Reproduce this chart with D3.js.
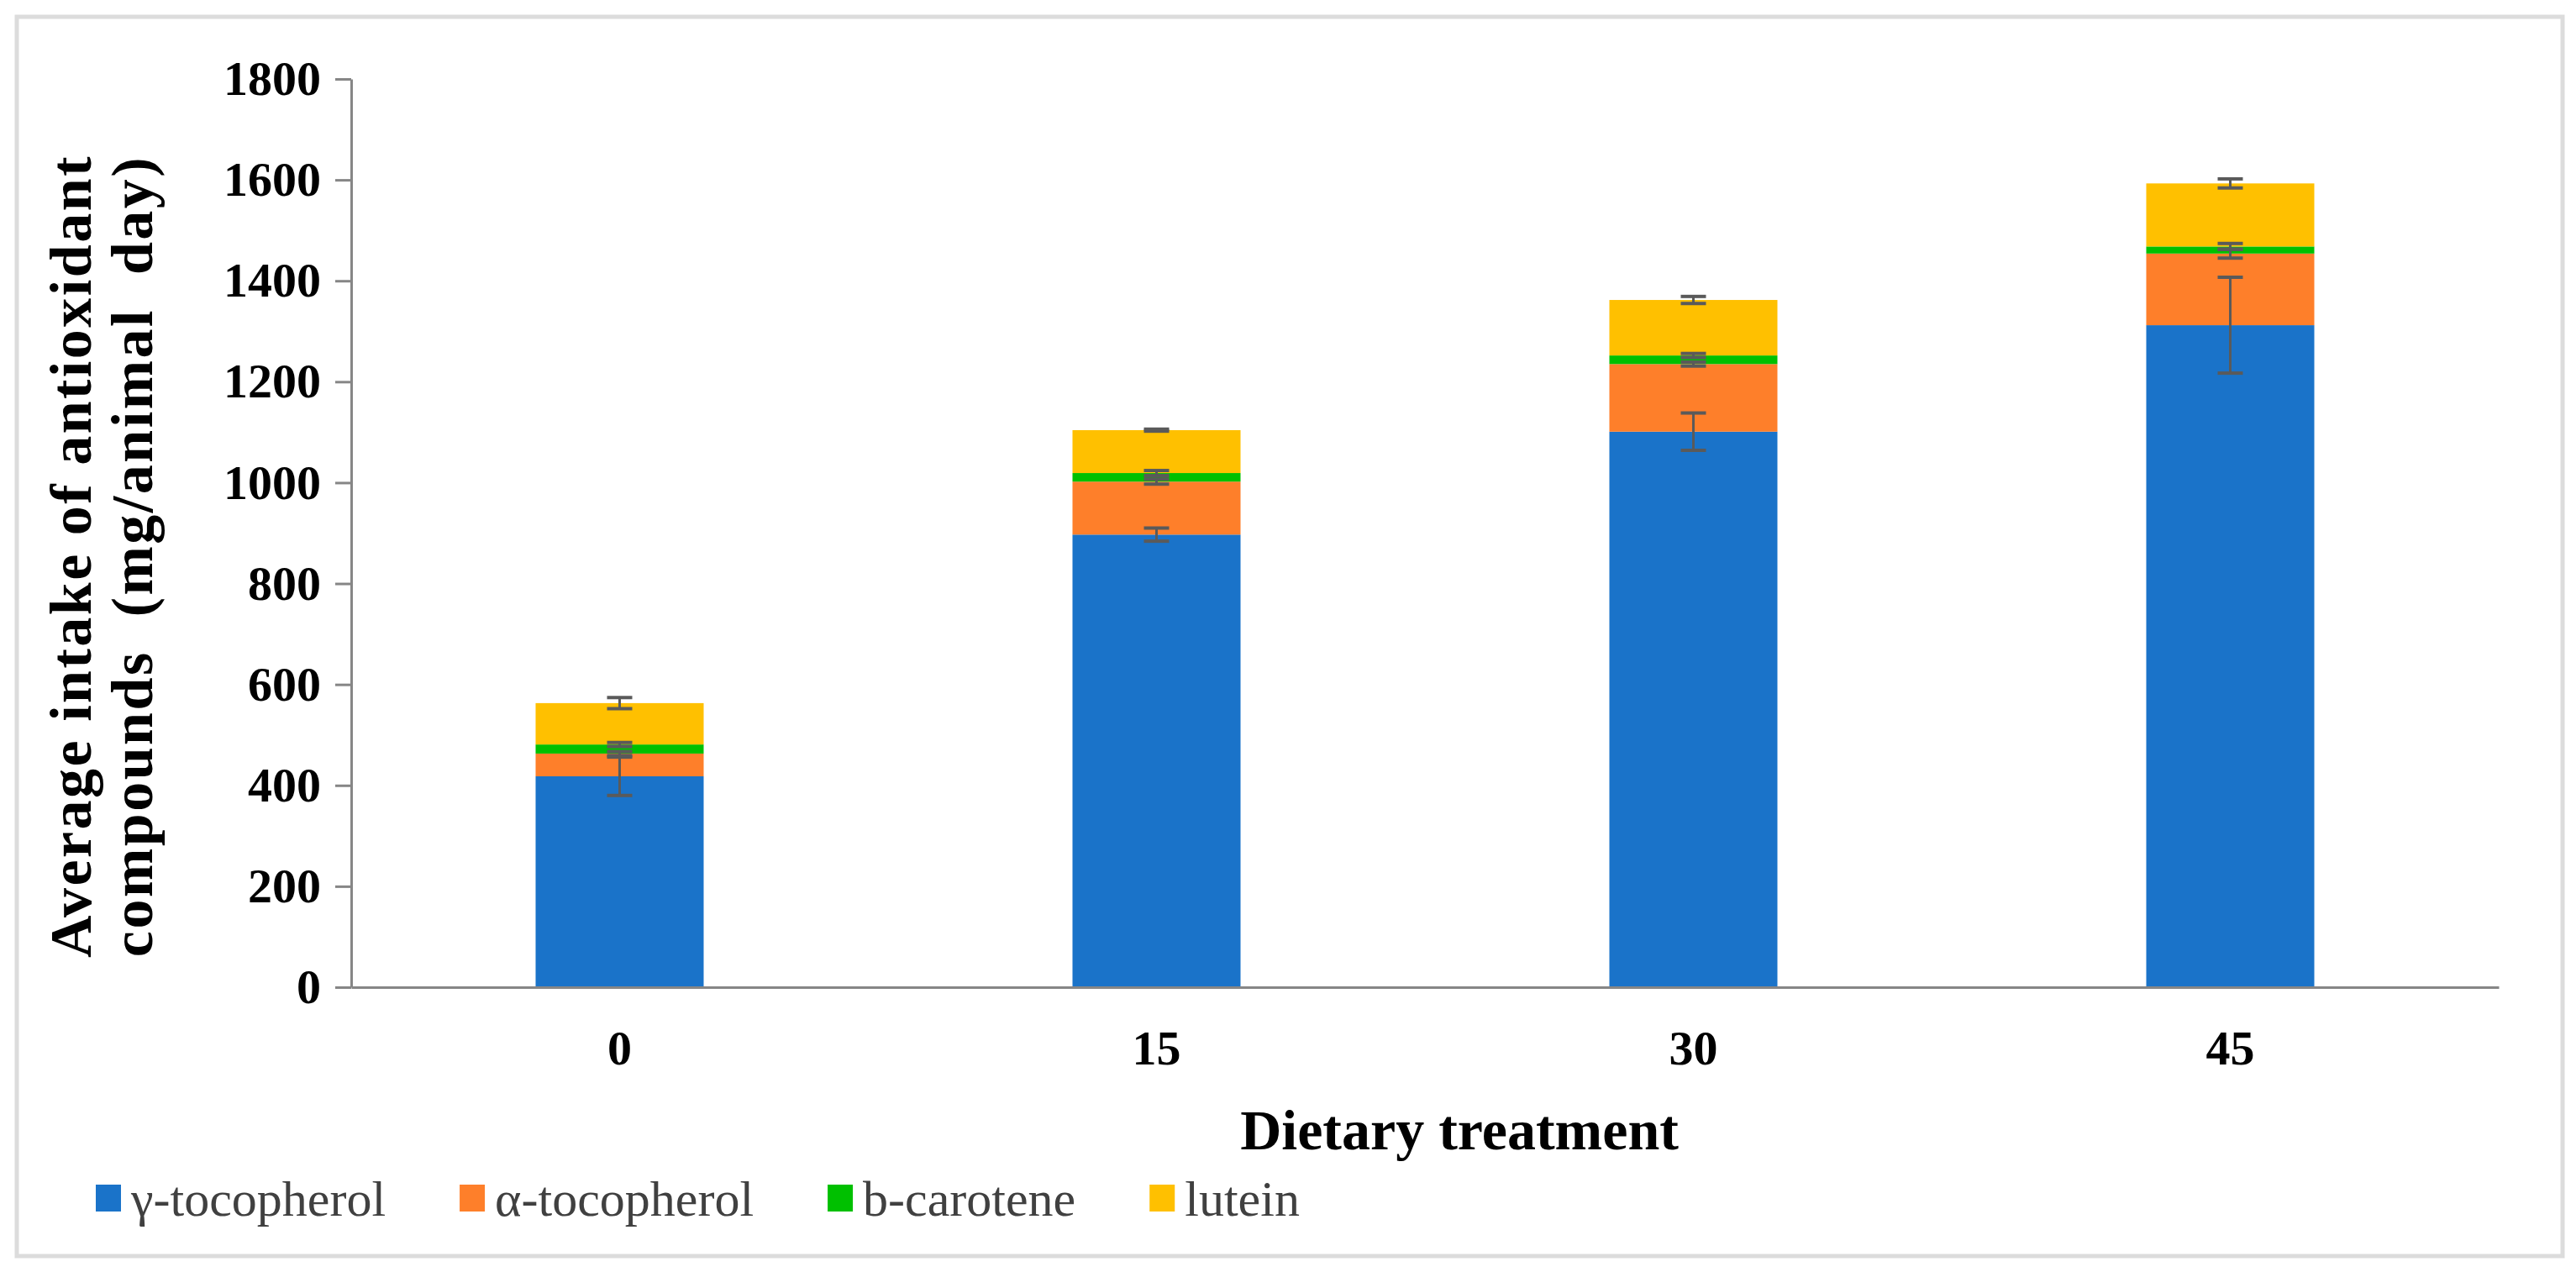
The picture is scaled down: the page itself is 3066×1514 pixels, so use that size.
<!DOCTYPE html>
<html>
<head>
<meta charset="utf-8">
<script src="https://cdn.jsdelivr.net/npm/d3@7"></script>
<style>
  body { margin: 0; background: #fff; }
  text { font-family: "Liberation Serif", "Times New Roman", serif; }
</style>
</head>
<body>
<div id="chart"></div>
<script>
// values
var categories = ["0", "15", "30", "45"];
var seriesNames = ["γ-tocopherol", "α-tocopherol", "b-carotene", "lutein"];
var gammaToc = [418, 897, 1101, 1312];
var alphaToc = [45, 105, 134, 142];
var betaCar = [18, 17, 17, 14];
var lutein = [82, 85, 110, 125];
var gammaErr = [38, 13, 37, 95];
var alphaErr = [4, 5, 4, 9];
var betaErr = [4, 5, 4, 6];
var luteinErr = [11, 2, 7, 9];
var yTicks = [0, 200, 400, 600, 800, 1000, 1200, 1400, 1600, 1800];
var colors = ["#1a73c9", "#fe7f2a", "#00c000", "#ffc000"];

var W = 3066, H = 1514;
var margin = { top: 94, left: 418, right: W - 2974, bottom: H - 1175 };

var svg = d3.select("#chart")
  .append("svg")
  .attr("width", W)
  .attr("height", H);

svg.append("rect")
  .attr("x", 20).attr("y", 20)
  .attr("width", 3030).attr("height", 1475)
  .attr("fill", "#fff")
  .attr("stroke", "#dcdcdc")
  .attr("stroke-width", 5);

var x = d3.scaleBand()
  .domain(categories)
  .range([margin.left, W - margin.right])
  .paddingInner(0.687)
  .paddingOuter(0.3435);

var y = d3.scaleLinear()
  .domain([0, 1800])
  .range([H - margin.bottom, margin.top]);

// build rows for the stack
var table = categories.map(function (c, i) {
  return { cat: c, s0: gammaToc[i], s1: alphaToc[i], s2: betaCar[i], s3: lutein[i] };
});
var errs = [gammaErr, alphaErr, betaErr, luteinErr];
var stacked = d3.stack().keys(["s0", "s1", "s2", "s3"])(table);

svg.append("g")
  .selectAll("g")
  .data(stacked)
  .enter()
  .append("g")
  .attr("fill", function (d, i) { return colors[i]; })
  .selectAll("rect")
  .data(function (d) { return d; })
  .enter()
  .append("rect")
  .attr("x", function (d) { return x(d.data.cat); })
  .attr("width", x.bandwidth())
  .attr("y", function (d) { return y(d[1]); })
  .attr("height", function (d) { return y(d[0]) - y(d[1]); });

// error bars at the top of each segment
var errG = svg.append("g").attr("stroke", "#5a5a5a");
stacked.forEach(function (layer, si) {
  layer.forEach(function (d, i) {
    var cx = x(d.data.cat) + x.bandwidth() / 2;
    var e = errs[si][i];
    var yHi = y(d[1] + e), yLo = y(d[1] - e);
    errG.append("line")
      .attr("x1", cx).attr("x2", cx)
      .attr("y1", yHi).attr("y2", yLo)
      .attr("stroke-width", 3);
    [yHi, yLo].forEach(function (yy) {
      errG.append("line")
        .attr("x1", cx - 15).attr("x2", cx + 15)
        .attr("y1", yy).attr("y2", yy)
        .attr("stroke-width", 4);
    });
  });
});

// axes
var yAxis = svg.append("g")
  .attr("transform", "translate(" + margin.left + ",0)")
  .call(d3.axisLeft(y).tickValues(yTicks).tickFormat(d3.format("d"))
    .tickSize(19).tickSizeOuter(0).tickPadding(17));

var xAxis = svg.append("g")
  .attr("transform", "translate(0," + (H - margin.bottom) + ")")
  .call(d3.axisBottom(x).tickSize(0).tickSizeOuter(0).tickPadding(51));

[yAxis, xAxis].forEach(function (g) {
  g.select(".domain").attr("stroke", "#868686").attr("stroke-width", 3);
  g.selectAll(".tick line").attr("stroke", "#868686").attr("stroke-width", 3);
  g.selectAll(".tick text")
    .attr("fill", "#000")
    .style("font-size", "58px")
    .style("font-weight", "bold")
    .style("font-family", "'Liberation Serif', serif");
});

// axis titles
svg.append("text")
  .attr("x", 1737)
  .attr("y", 1368)
  .attr("text-anchor", "middle")
  .style("font-size", "68px")
  .style("font-weight", "bold")
  .text("Dietary treatment");

var yTitle = svg.append("text")
  .attr("transform", "translate(0,662) rotate(-90)")
  .attr("text-anchor", "middle")
  .style("font-size", "70px")
  .style("font-weight", "bold")
  .style("letter-spacing", "2.5px")
  .style("white-space", "pre");
yTitle.append("tspan").attr("x", 0).attr("y", 108).text("Average intake of antioxidant");
yTitle.append("tspan").attr("x", 0).attr("y", 181).text("compounds  (mg/animal  day)");

// legend
var legend = svg.append("g");
var lx = 114;
seriesNames.forEach(function (name, i) {
  legend.append("rect")
    .attr("x", lx).attr("y", 1410)
    .attr("width", 30).attr("height", 32)
    .attr("fill", colors[i]);
  var t = legend.append("text")
    .attr("x", lx + 42)
    .attr("y", 1447)
    .attr("fill", "#404040")
    .style("font-size", "60px")
    .text(name);
  lx = lx + 42 + t.node().getComputedTextLength() + 88;
});
</script>
</body>
</html>
